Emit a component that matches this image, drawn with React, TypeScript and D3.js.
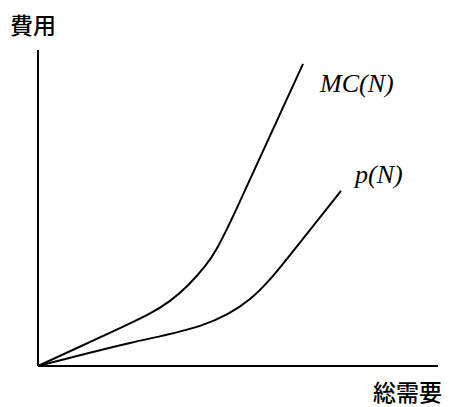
import React from "react";
import * as d3 from "d3";

const WIDTH = 449;
const HEIGHT = 407;
const ORIGIN = { x: 38, y: 366 };
const X_END = 438;
const Y_END = 50;

// 総需要 N (0-100) and 費用 (0-100)
const mcN = [0, 20.5, 33, 41.75, 49.25, 66.25];
const mcCost = [0, 12.0, 20.6, 31.6, 48.7, 95.6];
const pN = [0, 23, 40.5, 53, 63, 75.75];
const pCost = [0, 7.3, 12.7, 21.2, 35.1, 55.4];

const xLabel = "総需要";
const yLabel = "費用";
const mcLabel = "MC(N)";
const pLabel = "p(N)";

const App = () => {
  const xScale = d3.scaleLinear().domain([0, 100]).range([ORIGIN.x, X_END]);
  const yScale = d3.scaleLinear().domain([0, 100]).range([ORIGIN.y, Y_END]);

  const line = d3
    .line<[number, number]>()
    .x((d) => xScale(d[0]))
    .y((d) => yScale(d[1]))
    .curve(d3.curveNatural);

  const mcPath = line(mcN.map((n, i) => [n, mcCost[i]]));
  const pPath = line(pN.map((n, i) => [n, pCost[i]]));

  const mcEnd = xScale(mcN[mcN.length - 1]);
  const pEnd = xScale(pN[pN.length - 1]);

  return (
    <svg
      width={WIDTH}
      height={HEIGHT}
      style={{ position: "absolute", left: 0, top: 0 }}
    >
      <rect width={WIDTH} height={HEIGHT} fill="#fff" />
      {/* axes */}
      <line x1={ORIGIN.x} y1={ORIGIN.y} x2={ORIGIN.x} y2={Y_END} stroke="#000" strokeWidth={2} />
      <line x1={ORIGIN.x} y1={ORIGIN.y} x2={X_END} y2={ORIGIN.y} stroke="#000" strokeWidth={2} />

      <path d={mcPath ?? ""} fill="none" stroke="#000" strokeWidth={2} />
      <path d={pPath ?? ""} fill="none" stroke="#000" strokeWidth={2} />

      <text
        x={10}
        y={34}
        fontFamily="'Noto Sans CJK JP', sans-serif"
        fontSize={23}
        fontWeight={500}
      >
        {yLabel}
      </text>
      <text
        x={X_END + 4}
        y={401}
        textAnchor="end"
        fontFamily="'Noto Sans CJK JP', sans-serif"
        fontSize={23}
        fontWeight={500}
      >
        {xLabel}
      </text>

      <text
        x={mcEnd + 17}
        y={92}
        fontFamily="'Liberation Serif', 'Times New Roman', serif"
        fontStyle="italic"
        fontSize={26}
      >
        {mcLabel}
      </text>
      <text
        x={pEnd + 14}
        y={183}
        fontFamily="'Liberation Serif', 'Times New Roman', serif"
        fontStyle="italic"
        fontSize={26}
      >
        {pLabel}
      </text>
    </svg>
  );
};

export default App;
